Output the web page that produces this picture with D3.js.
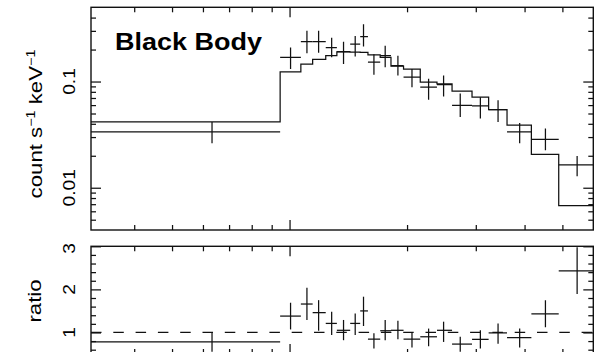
<!DOCTYPE html>
<html><head><meta charset="utf-8">
<script src="https://cdn.jsdelivr.net/npm/d3@7"></script>
<style>
body{margin:0;background:#fff}
svg{display:block}
text{font-family:"Liberation Sans",Arial,Helvetica,sans-serif;fill:#000}
</style>
</head><body>
<svg id="c" width="602" height="352"></svg>
<script>
// ---- data (energy bins in keV) ----
const binEdges   = [0.31, 0.946, 1.069, 1.146, 1.238, 1.322, 1.430, 1.517, 1.588, 1.707, 1.819, 1.959, 2.162, 2.386, 2.608, 2.934, 3.236, 3.607, 4.164, 4.893, 6.0];
const binCenters = [0.633, 1.006, 1.108, 1.187, 1.282, 1.375, 1.473, 1.547, 1.645, 1.758, 1.895, 2.059, 2.271, 2.481, 2.737, 3.082, 3.421, 3.886, 4.524, 5.454];
const rate   = [0.0336, 0.169, 0.237, 0.237, 0.209, 0.191, 0.225, 0.265, 0.152, 0.175, 0.141, 0.110, 0.0885, 0.0937, 0.0597, 0.0590, 0.0544, 0.0336, 0.0285, 0.0164];
const rateLo = [0.0263, 0.131, 0.185, 0.187, 0.169, 0.146, 0.172, 0.214, 0.116, 0.136, 0.114, 0.0885, 0.0675, 0.0724, 0.0464, 0.0448, 0.0417, 0.0262, 0.0226, 0.0128];
const rateHi = [0.0415, 0.209, 0.300, 0.300, 0.259, 0.237, 0.269, 0.346, 0.181, 0.217, 0.175, 0.131, 0.106, 0.114, 0.0773, 0.0713, 0.0665, 0.0408, 0.0361, 0.0199];
const model  = [0.0417, 0.123, 0.146, 0.162, 0.175, 0.190, 0.189, 0.188, 0.178, 0.169, 0.140, 0.131, 0.0985, 0.0948, 0.0811, 0.0713, 0.0544, 0.0388, 0.0206, 0.00679];
const ratio   = [0.78, 1.38, 1.66, 1.46, 1.21, 1.05, 1.21, 1.50, 0.845, 1.04, 1.05, 0.845, 0.90, 1.05, 0.73, 0.84, 0.99, 0.88, 1.43, 2.43];
const ratioLo = [0.55, 1.07, 1.29, 1.04, 0.94, 0.82, 0.94, 1.15, 0.63, 0.82, 0.84, 0.65, 0.68, 0.78, 0.55, 0.63, 0.74, 0.65, 1.12, 1.89];
const ratioHi = [0.99, 1.69, 2.04, 1.75, 1.48, 1.29, 1.44, 1.83, 0.98, 1.29, 1.27, 1.01, 1.09, 1.25, 0.90, 1.05, 1.21, 1.09, 1.75, 2.98];

// ---- ticks ----
const xMajorTicks = [1];
const xMinorTicks = [0.4, 0.5, 0.6, 0.7, 0.8, 0.9, 2, 3, 4, 5];
const yMajorTicks = [0.01, 0.1];
const yMinorTicks = [0.005, 0.006, 0.007, 0.008, 0.009, 0.02, 0.03, 0.04, 0.05, 0.06, 0.07, 0.08, 0.09, 0.2, 0.3, 0.4];
const yTickLabels = ["0.01", "0.1"];
const rMajorTicks = [1, 2, 3];
const rMinorTicks = [0.6, 0.8, 1.2, 1.4, 1.6, 1.8, 2.2, 2.4, 2.6, 2.8];
const rTickLabels = ["1", "2", "3"];
const panelLabel = "Black Body";

// ---- layout ----
const X0 = 91, X1 = 593.3;
const T0 = 7.3, T1 = 230;
const B0 = 246.3, B1 = 354;
const INK = "#111", LW = 1.25;

const svg = d3.select("#c");
const x = d3.scaleLog().domain([0.31, 6.0]).range([X0, X1]);
const y = d3.scaleLog().domain([0.004, 0.5]).range([T1, T0]);
const r = d3.scaleLinear().domain([0.5, 3]).range([B1, B0]);

svg.append("defs").call(d => {
  d.append("clipPath").attr("id", "ct").append("rect").attr("x", X0).attr("y", T0).attr("width", X1 - X0).attr("height", T1 - T0);
  d.append("clipPath").attr("id", "cb").append("rect").attr("x", X0).attr("y", B0).attr("width", X1 - X0).attr("height", B1 - B0);
});

function tickAxis(axisFn, scale, values, size, tr) {
  const g = svg.append("g").attr("transform", tr)
    .call(axisFn(scale).tickValues(values).tickSize(size).tickSizeOuter(0).tickFormat(""));
  g.select(".domain").remove();
  g.selectAll(".tick line").attr("stroke", INK).attr("stroke-width", LW);
  g.selectAll(".tick text").remove();
}
function frameTicks(ys, y0, y1, yMaj, yMin) {
  tickAxis(d3.axisBottom, x, xMinorTicks, 5, `translate(0,${y0})`);
  tickAxis(d3.axisBottom, x, xMajorTicks, 10, `translate(0,${y0})`);
  tickAxis(d3.axisTop, x, xMinorTicks, 5, `translate(0,${y1})`);
  tickAxis(d3.axisTop, x, xMajorTicks, 10, `translate(0,${y1})`);
  tickAxis(d3.axisRight, ys, yMin, 5, `translate(${X0},0)`);
  tickAxis(d3.axisRight, ys, yMaj, 10, `translate(${X0},0)`);
  tickAxis(d3.axisLeft, ys, yMin, 5, `translate(${X1},0)`);
  tickAxis(d3.axisLeft, ys, yMaj, 10, `translate(${X1},0)`);
  svg.append("rect").attr("x", X0).attr("y", y0).attr("width", X1 - X0).attr("height", y1 - y0)
    .attr("fill", "none").attr("stroke", INK).attr("stroke-width", 1.4);
}
frameTicks(y, T0, T1, yMajorTicks, yMinorTicks);
frameTicks(r, B0, B1, rMajorTicks, rMinorTicks);

// ---- top panel: model step + data crosses ----
const gTop = svg.append("g").attr("clip-path", "url(#ct)");
const stepPts = binEdges.map((e, i) => [e, model[Math.min(i, model.length - 1)]]);
gTop.append("path")
  .attr("d", d3.line().x(d => x(d[0])).y(d => y(d[1])).curve(d3.curveStepAfter)(stepPts))
  .attr("fill", "none").attr("stroke", INK).attr("stroke-width", LW);
rate.forEach((v, i) => {
  gTop.append("line").attr("x1", x(binEdges[i])).attr("x2", x(binEdges[i + 1]))
    .attr("y1", y(v)).attr("y2", y(v)).attr("stroke", INK).attr("stroke-width", LW);
  gTop.append("line").attr("x1", x(binCenters[i])).attr("x2", x(binCenters[i]))
    .attr("y1", y(rateLo[i])).attr("y2", y(rateHi[i])).attr("stroke", INK).attr("stroke-width", LW);
});

// ---- bottom panel: ratio ----
const gBot = svg.append("g").attr("clip-path", "url(#cb)");
gBot.append("line").attr("x1", X0).attr("x2", X1).attr("y1", r(1)).attr("y2", r(1))
  .attr("stroke", INK).attr("stroke-width", LW).attr("stroke-dasharray", "10.5,11.8");
ratio.forEach((v, i) => {
  gBot.append("line").attr("x1", x(binEdges[i])).attr("x2", x(binEdges[i + 1]))
    .attr("y1", r(v)).attr("y2", r(v)).attr("stroke", INK).attr("stroke-width", LW);
  gBot.append("line").attr("x1", x(binCenters[i])).attr("x2", x(binCenters[i]))
    .attr("y1", r(ratioLo[i])).attr("y2", r(ratioHi[i])).attr("stroke", INK).attr("stroke-width", LW);
});

// ---- labels ----
function vText(cx, cy, txt, size) {
  return svg.append("text").attr("transform", `translate(${cx},${cy}) scale(1,1.2) rotate(-90)`)
    .attr("text-anchor", "middle").attr("font-size", size).text(txt);
}
yMajorTicks.forEach((t, i) => vText(75, y(t), yTickLabels[i], 16));
rMajorTicks.forEach((t, i) => vText(75, Math.max(r(t), B0 + 2), rTickLabels[i], 16));

const ttl = svg.append("text").attr("transform", `translate(41.5,124) scale(1,1.2) rotate(-90)`)
  .attr("text-anchor", "middle").attr("font-size", 18.5);
ttl.append("tspan").text("count s");
ttl.append("tspan").attr("font-size", 12).attr("dy", -7).text("\u22121");
ttl.append("tspan").attr("dy", 7).text(" keV");
ttl.append("tspan").attr("font-size", 12).attr("dy", -7).text("\u22121");

vText(41, 301, "ratio", 18.5);

svg.append("text").attr("x", 115).attr("y", 50).attr("font-size", 24.7).attr("font-weight", "bold")
  .attr("textLength", 147).attr("lengthAdjust", "spacingAndGlyphs").text(panelLabel);
</script>
</body></html>
